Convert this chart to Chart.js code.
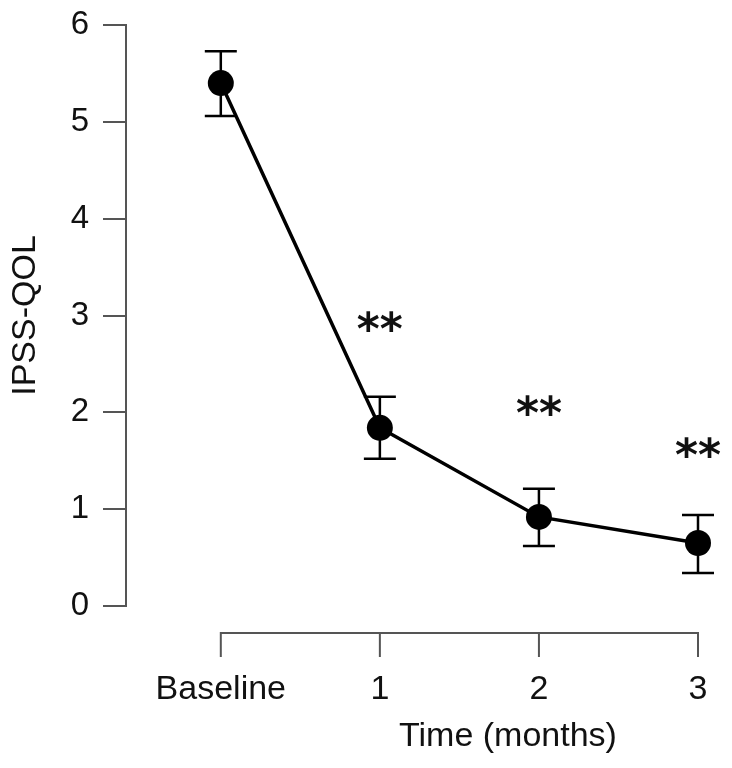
<!DOCTYPE html>
<html>
<head>
<meta charset="utf-8">
<script src="https://cdn.jsdelivr.net/npm/chart.js@4.4.0/dist/chart.umd.min.js"></script>
<style>
  html, body { margin: 0; padding: 0; background: #fff; }
  #wrap { width: 732px; height: 768px; }
</style>
</head>
<body>
<div id="wrap"><canvas id="chart"></canvas></div>
<script>
// values
const categories = ["Baseline", "1", "2", "3"];
const meanScores = [5.40, 1.84, 0.92, 0.65];
const upperErr = [5.73, 2.16, 1.21, 0.94];
const lowerErr = [5.06, 1.52, 0.62, 0.34];
const starLabels = ["", "**", "**", "**"];
const starLevels = [null, 2.94, 2.07, 1.64];
const yTickValues = [0, 1, 2, 3, 4, 5, 6];

const FONT = "'Liberation Sans', Arial, Helvetica, sans-serif";
const STAR_FONT = "bold 44px 'DejaVu Sans', sans-serif";
const AXIS_GREY = "#555";

// error bars, the detached x axis, stars and the x title
const extras = {
  id: "extras",
  beforeDatasetsDraw(chart) {
    const ctx = chart.ctx;
    const xs = chart.scales.x, ys = chart.scales.y;
    ctx.save();
    ctx.strokeStyle = "#000";
    ctx.lineWidth = 2.5;
    for (let i = 0; i < categories.length; i++) {
      const px = xs.getPixelForValue(i);
      const top = ys.getPixelForValue(upperErr[i]);
      const bot = ys.getPixelForValue(lowerErr[i]);
      ctx.beginPath();
      ctx.moveTo(px, top); ctx.lineTo(px, bot);
      ctx.moveTo(px - 16, top); ctx.lineTo(px + 16, top);
      ctx.moveTo(px - 16, bot); ctx.lineTo(px + 16, bot);
      ctx.stroke();
    }
    ctx.restore();
  },
  afterDraw(chart) {
    const ctx = chart.ctx;
    const xs = chart.scales.x, ys = chart.scales.y;
    const lineY = chart.chartArea.bottom + 27;
    ctx.save();
    ctx.strokeStyle = AXIS_GREY;
    ctx.lineWidth = 2;
    const first = xs.getPixelForValue(0);
    const last = xs.getPixelForValue(categories.length - 1);
    ctx.beginPath();
    ctx.moveTo(first, lineY + 24);
    ctx.lineTo(first, lineY);
    ctx.lineTo(last, lineY);
    ctx.lineTo(last, lineY + 24);
    for (let i = 1; i < categories.length - 1; i++) {
      const px = xs.getPixelForValue(i);
      ctx.moveTo(px, lineY);
      ctx.lineTo(px, lineY + 24);
    }
    ctx.stroke();

    // stars: centre the glyph box on the level
    ctx.fillStyle = "#111";
    ctx.font = STAR_FONT;
    ctx.textAlign = "center";
    ctx.textBaseline = "alphabetic";
    for (let i = 0; i < starLabels.length; i++) {
      if (!starLabels[i]) continue;
      const m = ctx.measureText(starLabels[i]);
      const shift = (m.actualBoundingBoxAscent - m.actualBoundingBoxDescent) / 2;
      const px = xs.getPixelForValue(i);
      const py = ys.getPixelForValue(starLevels[i]);
      ctx.fillText(starLabels[i], px, py + shift);
    }

    ctx.font = "34px " + FONT;
    ctx.textBaseline = "middle";
    ctx.fillText("Time (months)", 508, 737);
    ctx.restore();
  }
};

new Chart(document.getElementById("chart"), {
  type: "line",
  data: {
    datasets: [{
      data: meanScores.map((v, i) => ({ x: i, y: v })),
      borderColor: "#000",
      borderWidth: 3.5,
      pointRadius: 13,
      pointHoverRadius: 13,
      pointBackgroundColor: "#000",
      pointBorderWidth: 0,
      tension: 0,
      fill: false,
      clip: false,
    }],
  },
  options: {
    responsive: true,
    maintainAspectRatio: false,
    animation: false,
    layout: { padding: { top: 25, right: 12, bottom: 0, left: 0 } },
    plugins: {
      legend: { display: false },
      tooltip: { enabled: false },
    },
    scales: {
      x: {
        type: "linear",
        min: -0.596,
        max: 3.132,
        afterBuildTicks: (scale) => {
          scale.ticks = categories.map((c, i) => ({ value: i }));
        },
        afterFit: (scale) => {
          scale.height = 162;
          scale.paddingLeft = 0;
          scale.paddingRight = 0;
        },
        grid: { display: false, drawTicks: false },
        border: { display: false },
        ticks: {
          autoSkip: false,
          maxRotation: 0,
          padding: 63,
          color: "#111",
          font: { family: FONT, size: 34 },
          callback: (v) => categories[v] ?? "",
        },
      },
      y: {
        min: 0,
        max: 6,
        afterBuildTicks: (scale) => {
          scale.ticks = yTickValues.map((v) => ({ value: v }));
        },
        afterFit: (scale) => {
          scale.width = 126;
          scale.paddingTop = 0;
          scale.paddingBottom = 0;
        },
        grid: {
          drawOnChartArea: false,
          drawTicks: true,
          tickLength: 23,
          color: AXIS_GREY,
          lineWidth: 2,
        },
        border: { display: true, color: AXIS_GREY, width: 2 },
        ticks: {
          padding: 14,
          color: "#111",
          font: { family: FONT, size: 33 },
        },
        title: {
          display: true,
          text: "IPSS-QOL",
          color: "#111",
          font: { family: FONT, size: 34 },
          padding: { top: 5, bottom: 0 },
        },
      },
    },
  },
  plugins: [extras],
});
</script>
</body>
</html>
